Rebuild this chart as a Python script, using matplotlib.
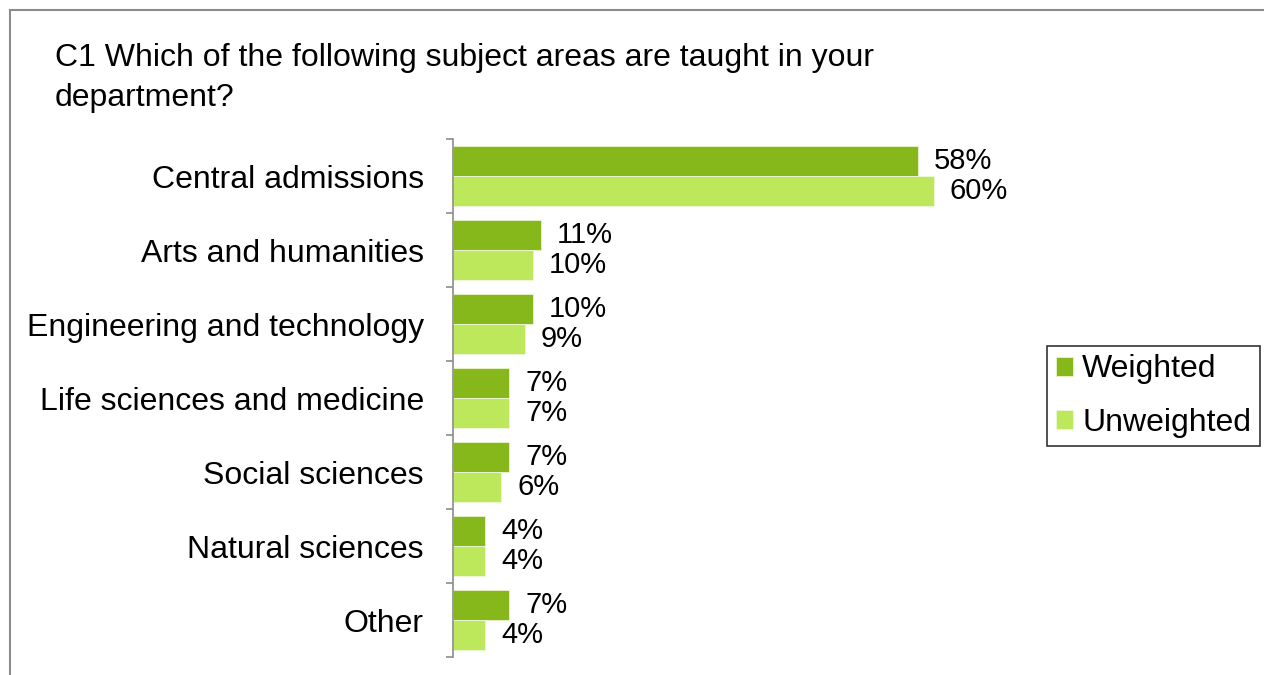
import matplotlib
matplotlib.use("Agg")
import matplotlib.pyplot as plt
import numpy as np
from matplotlib.lines import Line2D

plt.rcParams["font.family"] = ["Liberation Sans", "DejaVu Sans"]

categories = ["Central admissions", "Arts and humanities", "Engineering and technology",
              "Life sciences and medicine", "Social sciences", "Natural sciences", "Other"]
weighted = [58, 11, 10, 7, 7, 4, 7]
unweighted = [60, 10, 9, 7, 6, 4, 4]
series_names = ["Weighted", "Unweighted"]
title = "C1 Which of the following subject areas are taught in your\ndepartment?"

W, H = 1264, 675
fig = plt.figure(figsize=(W / 100, H / 100), dpi=100)
ax = fig.add_axes([453 / W, 1 - 657 / H, 561 / W, 518 / H])

y = np.arange(len(categories))
h = 0.4
c_w, c_u = "#86b81b", "#bde85c"
b1 = ax.barh(y - h / 2, weighted, height=h, color=c_w, edgecolor="#e8f5c8",
             linewidth=0.6, label=series_names[0])
b2 = ax.barh(y + h / 2, unweighted, height=h, color=c_u, edgecolor="#eef8d8",
             linewidth=0.6, label=series_names[1])

for bars, vals in ((b1, weighted), (b2, unweighted)):
    for rect, v in zip(bars, vals):
        ax.annotate(f"{v}%", (rect.get_width(), rect.get_y() + rect.get_height() / 2),
                    xytext=(11.5, 0), textcoords="offset points",
                    va="center", ha="left", fontsize=21, color="black")

ax.set_xlim(0, 70)
ax.set_ylim(len(categories) - 0.5, -0.5)
ax.set_yticks(y)
ax.set_yticklabels(categories, fontsize=23)
ax.set_yticks(np.arange(len(categories) + 1) - 0.5, minor=True)
ax.tick_params(axis="y", which="major", length=0, pad=21)
ax.tick_params(axis="y", which="minor", length=5, width=1.2, color="#8c8c8c")
ax.set_xticks([])
for s in ("top", "right", "bottom"):
    ax.spines[s].set_visible(False)
ax.spines["left"].set_color("#8c8c8c")
ax.spines["left"].set_linewidth(1.2)

fig.text(55 / W, 1 - 43 / H, title, fontsize=23, ha="left", va="top",
         linespacing=1.42)

leg = fig.legend(handles=[b1, b2], labels=series_names, loc="center right",
                 bbox_to_anchor=(1260 / W, 1 - 396 / H), fontsize=23,
                 frameon=True, fancybox=False, edgecolor="black",
                 handlelength=0.55, handleheight=0.55, handletextpad=0.28,
                 labelspacing=0.72, borderpad=0.28, borderaxespad=0)
leg.get_frame().set_linewidth(1.2)

# frame around the chart (top and left only visible)
fig.add_artist(Line2D([10 / W, 10 / W], [0, 1 - 10 / H], color="#8c8c8c", lw=1.5))
fig.add_artist(Line2D([10 / W, 1], [1 - 10 / H, 1 - 10 / H], color="#8c8c8c", lw=1.5))

fig.savefig("out.png", dpi=100, facecolor="white")
